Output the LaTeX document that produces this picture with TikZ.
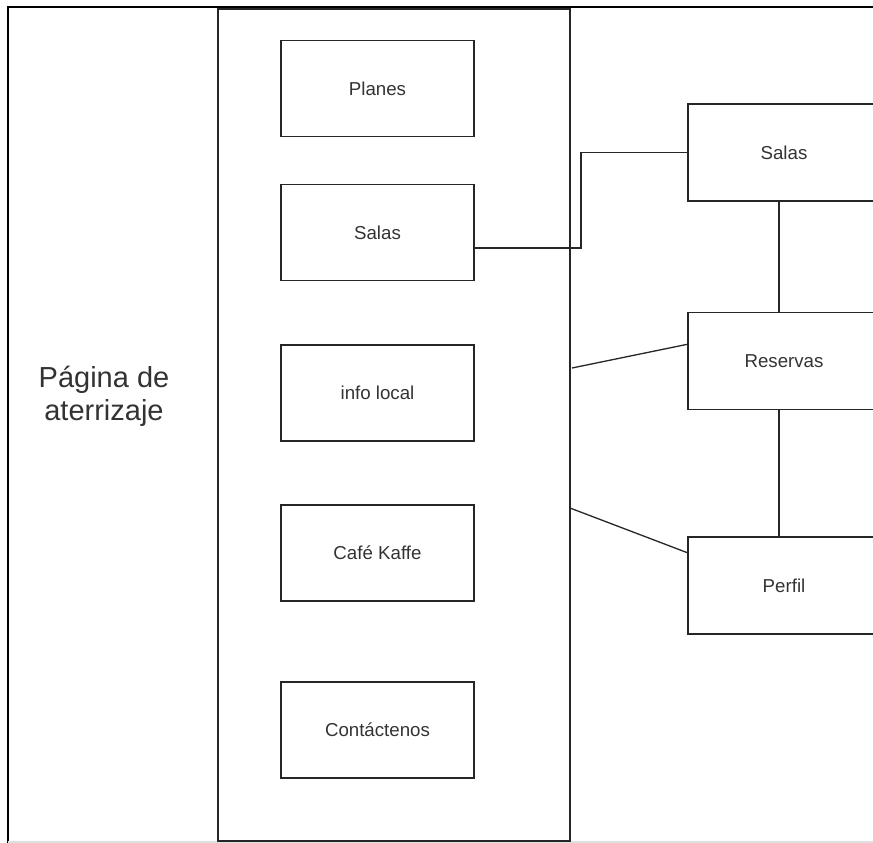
\documentclass[tikz,border=0pt]{standalone}
\usepackage{fontspec}
\setmainfont{Liberation Sans}
\usetikzlibrary{calc}
\begin{document}
\begin{tikzpicture}[x=1pt,y=-1pt,
  box/.style={draw=black!85,line width=1.3pt,rectangle,minimum width=193pt,minimum height=96pt,inner sep=0pt,
    font=\fontsize{18.7}{22}\selectfont,text=black!80},
  rbox/.style={box,minimum width=192pt,minimum height=97pt},
  link/.style={draw=black!85,line width=1.3pt}]
\useasboundingbox (0,0) rectangle (873,843);
% outer frame
\draw[black,line width=2pt] (7.5,843) -- (7.5,7.5) -- (873,7.5);
\draw[black!12,line width=1.5pt] (7.5,842) -- (873,842);
% container
\node[draw=black!85,line width=1.5pt,minimum width=352pt,minimum height=832pt,inner sep=0pt] (cont) at (394,425) {};
% label
\node[align=center,font=\fontsize{29}{33}\selectfont,text=black!80] (lbl) at (104,396) {Página de\\aterrizaje};
% inner boxes
\node[box] (planes) at (377.5,88.7) {Planes};
\node[box] (salas) at (377.5,232.5) {Salas};
\node[box] (info) at (377.5,393) {info local};
\node[box] (cafe) at (377.5,553) {Café Kaffe};
\node[box] (cont2) at (377.5,730) {Contáctenos};
% right boxes
\node[rbox] (salasR) at (784,152.5) {Salas};
\node[rbox] (resR) at (784,361) {Reservas};
\node[rbox] (perfil) at (784,585.5) {Perfil};
% connectors
\coordinate (bend) at (581,248);
\draw[link] ([yshift=-15.5pt]salas.east) -- (bend) |- (salasR.west);
\draw[link] ([xshift=-5pt]salasR.south) -- ([xshift=-5pt]resR.north);
\draw[link] ([xshift=-5pt]resR.south) -- ([xshift=-5pt]perfil.north);
\coordinate (r1) at (572,368);
\coordinate (r2) at (570,508);
\draw[link] (r1) -- ([yshift=16.7pt]resR.west);
\draw[link] (r2) -- ([yshift=32.8pt]perfil.west);
\end{tikzpicture}
\end{document}
